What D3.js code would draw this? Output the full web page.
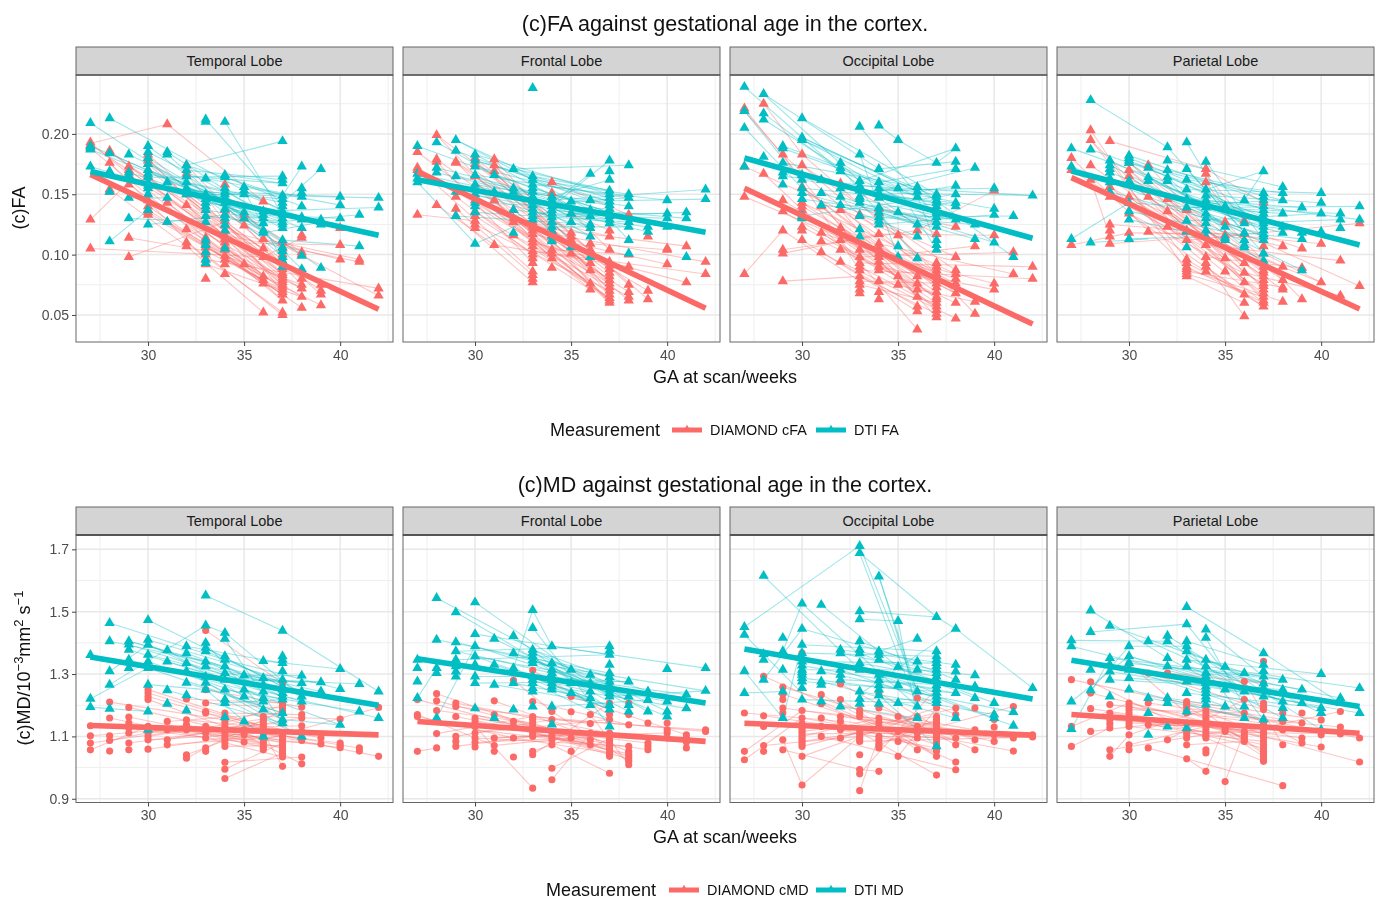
<!DOCTYPE html>
<html lang="en">
<head>
<meta charset="UTF-8">
<title>(c)FA and (c)MD against gestational age in the cortex</title>
<script src="https://d3js.org/d3.v7.min.js"></script>
<style>
    html, body { margin: 0; padding: 0; background: #fff; }
    svg { display: block; font-family: "Liberation Sans", Arial, sans-serif; }
</style>
</head>
<body>
<div id="chart"></div>
<script>
// scan weeks, every series below has one list of values per week
var gaWeeks = [27,28,29,30,31,32,33,34,35,36,37,38,39,40,41,42];
var fitWeeks = [27,42];
var lobes = ["Temporal Lobe","Frontal Lobe","Occipital Lobe","Parietal Lobe"];

var xTicks = [30,35,40];
var xMinor = [27.5,32.5,37.5,42.5];
var faTicks = [0.05,0.10,0.15,0.20];
var faMinor = [0.075,0.125,0.175,0.225];
var mdTicks = [0.9,1.1,1.3,1.5,1.7];
var mdMinor = [1.0,1.2,1.4,1.6];

// fitted lines: [value at 27, value at 42]
var faFitCfa = [[.1665,.0547],[.1688,.0555],[.155,.0425],[.1638,.055]];
var faFitFa  = [[.1688,.116],[.162,.1185],[.18,.1135],[.1693,.108]];
var mdFitCmd = [[1.135,1.105],[1.148,1.084],[1.142,1.104],[1.17,1.11]];
var mdFitMd  = [[1.355,1.20],[1.349,1.207],[1.38,1.22],[1.344,1.196]];

// ---- (c)FA points
var faTemporalCfa = [
 [.105,.129,.188,.191,.193],[.152,.154,.176,.185,.186],[.098,.114,.158,.166,.170,.173],
 [.133,.135,.137,.140,.145,.165,.170,.175,.178,.180,.183],[.127,.143,.208],[.107,.110,.121,.141,.150,.167,.174],
 [.080,.092,.096,.100,.103,.106,.109,.111,.114],[.084,.092,.096,.099,.104,.107,.110,.113,.116,.120,.124,.128,.133,.137,.158],
 [.092,.124,.130,.133],[.052,.076,.079,.082,.098,.105,.113,.144],
 [.050,.052,.062,.067,.069,.071,.073,.075,.077,.079,.081,.083,.085,.088,.090,.094,.100,.105,.110],
 [.056,.065,.072,.075,.080,.100,.102,.114,.116],[.058,.067,.070,.075],[.096,.108,.122],[.094,.096],[.066,.072]];
var faTemporalFa = [
 [.173,.187,.189,.190,.209],[.111,.152,.169,.184,.213],[.130,.147,.165,.168,.183],
 [.125,.137,.150,.155,.157,.160,.164,.167,.170,.175,.180,.185,.190],[.127,.147,.160,.183,.185],[.150,.155,.160,.165,.170,.174],
 [.093,.096,.102,.108,.112,.127,.132,.137,.140,.143,.146,.150,.163,.210,.212],[.105,.120,.125,.130,.133,.138,.143,.147,.150,.152,.155,.164,.166,.210],
 [.130,.135,.150,.153,.156],[.118,.120,.126,.130,.133,.136],
 [.090,.095,.098,.103,.106,.112,.122,.125,.127,.130,.133,.136,.140,.143,.146,.149,.159,.162,.165,.194],
 [.088,.099,.122,.129,.131,.140,.148,.151,.155,.173],[.089,.125,.127,.129,.171],[.130,.141,.148],[.107,.133],[.139,.147]];
var faFrontalCfa = [
 [.133,.170,.172,.185],[.141,.177,.179,.199],[.132,.138,.148,.176,.177],
 [.122,.125,.128,.132,.136,.145,.155,.165,.175,.180],[.108,.145,.169,.174,.179],[.116,.127,.130,.137],
 [.077,.080,.083,.086,.093,.097,.100,.103,.107,.110,.113,.117,.120,.123,.127],[.089,.097,.101,.104,.112,.116,.120,.127,.151,.160],
 [.101,.112,.115,.118,.134],[.071,.076,.087,.093,.098,.104,.109],
 [.060,.062,.064,.067,.070,.073,.076,.079,.082,.085,.088,.091,.094,.104,.115,.120],
 [.062,.065,.069,.075,.090,.100,.133],[.063,.070,.115],[.092,.104,.105],[.077,.107],[.084,.094]];
var faFrontalFa = [
 [.160,.163,.167,.190],[.168,.172,.193],[.132,.152,.165,.186,.195],
 [.109,.135,.140,.143,.150,.158,.166,.173,.178,.183],[.152,.166],[.118,.137,.152,.155,.171],
 [.129,.132,.135,.138,.141,.144,.148,.152,.155,.158,.162,.165,.238],[.111,.115,.119,.123,.127,.131,.134,.137,.140,.143,.145,.148],
 [.106,.127,.134,.144],[.098,.115,.122,.125,.132,.137,.145,.167],
 [.126,.129,.132,.135,.138,.141,.144,.147,.150,.153,.162,.169,.178],
 [.101,.112,.123,.127,.140,.147,.150,.174],[.119,.123],[.123,.130,.134,.145],[.098,.130,.135],[.146,.154]];
var faOccipitalCfa = [
 [.084,.148,.173,.219,.221],[.167,.225],[.078,.101,.104,.120,.136,.145,.183],
 [.112,.120,.123,.131,.134,.137,.140,.143,.156,.174,.183],[.102,.111,.118,.140],[.094,.104,.112,.122,.137,.159],
 [.068,.071,.075,.078,.082,.087,.090,.093,.098,.104,.133],[.063,.069,.078,.087,.090,.094,.098,.101,.105,.109,.117,.134,.138],
 [.075,.082,.116],[.038,.053,.057,.065,.071,.076,.082,.120],
 [.048,.051,.054,.057,.060,.063,.065,.069,.073,.076,.079,.082,.084,.087,.090,.093,.117],
 [.047,.060,.068,.076,.080,.084,.087,.098,.123],[.051,.061,.107],[.071,.076,.116,.153],[.084,.102],[.080,.090]];
var faOccipitalFa = [
 [.173,.205,.219,.239],[.181,.212,.217,.233],[.158,.165,.168,.176,.188,.190],
 [.130,.132,.146,.151,.155,.162,.166,.195,.197,.213],[.141,.151,.162],[.141,.148,.155,.169,.172,.176],
 [.115,.121,.132,.143,.146,.148,.153,.157,.161,.183,.206],[.125,.128,.131,.135,.139,.147,.151,.155,.160,.171,.207],
 [.098,.107,.135,.155,.195],[.097,.115,.125,.148,.152,.156],
 [.104,.108,.112,.123,.127,.131,.134,.136,.140,.143,.145,.148,.150,.176],
 [.129,.140,.143,.150,.157,.171,.177,.188],[.113,.125,.172],[.110,.133,.138,.155],[.098,.132],[.149]];
var faParietalCfa = [
 [.108,.170,.180],[.162,.174,.195,.203],[.109,.115,.120,.125,.148,.156,.194],
 [.118,.134,.148,.159,.165,.170,.176],[.119,.148,.174],[.123,.136,.146],
 [.082,.084,.086,.088,.090,.093,.096,.112,.120,.137],[.086,.090,.093,.098,.108,.115,.160,.167,.171],
 [.086,.097,.116,.127,.138],[.049,.060,.067,.077,.085,.093,.117,.128],
 [.057,.060,.062,.065,.068,.071,.074,.076,.079,.082,.085,.087,.090,.093,.101,.107,.143],[.061,.071,.073,.079,.090,.107],[.063,.089,.105],[.077,.109],[.066,.095],[.074,.126]];
var faParietalFa = [
 [.113,.173,.188],[.110,.187,.228],[.152,.160,.163,.168,.171,.174,.178],
 [.113,.129,.136,.143,.161,.176,.178,.180,.182],[.161,.164,.172],[.161,.164,.170,.178,.189],
 [.106,.119,.128,.139,.146,.154,.162,.171,.193],[.115,.120,.126,.130,.134,.139,.142,.145,.149,.154,.177],
 [.112,.114,.123,.140],[.106,.108,.112,.118,.126,.145],
 [.095,.101,.112,.115,.117,.120,.123,.126,.128,.131,.134,.137,.140,.145,.148,.151,.169],[.118,.123,.134,.145,.151,.156],[.087,.113,.118,.139],[.119,.134,.143,.151],[.122,.129,.134],[.129,.140]];

// ---- (c)FA subject lines: [week, value, week, value]
var faTemporalCfaLinks = [[27,.192,31,.208],[31,.208,36,.144],[27,.105,36,.098],[29,.098,34,.127],[27,.129,29,.160],[27,.188,33,.111],[28,.186,34,.110],[28,.176,33,.096],
 [29,.173,36,.105],[29,.166,37,.085],[29,.114,33,.103],[30,.183,37,.083],[30,.180,36,.082],[30,.178,37,.075],[30,.145,38,.072],[30,.137,37,.067],[30,.133,36,.079],
 [31,.143,37,.071],[31,.127,37,.073],[32,.174,38,.075],[32,.167,37,.069],[32,.150,39,.070],[32,.141,37,.077],[32,.121,38,.065],[32,.110,37,.052],[32,.107,36,.052],
 [33,.114,37,.062],[33,.111,38,.056],[33,.106,39,.058],[33,.100,37,.050],[33,.096,42,.072],[34,.137,39,.067],[34,.133,42,.066],[34,.128,38,.080],[34,.120,40,.096],
 [34,.116,41,.094],[34,.110,40,.108],[35,.133,38,.102],[35,.130,38,.100],[36,.113,41,.096],[36,.098,38,.114],[29,.158,35,.092],[28,.154,32,.107],
 [27,.191,34,.116],[27,.193,33,.114],[28,.185,36,.098],[29,.170,34,.113],[30,.175,37,.081],[30,.170,37,.090],[30,.165,37,.079],[30,.140,36,.076],[30,.135,37,.069],
 [31,.143,36,.082],[32,.150,37,.088],[32,.141,36,.079],[33,.109,37,.067],[33,.103,37,.071],[33,.092,38,.065],[34,.124,37,.085],[34,.113,37,.075],[34,.107,37,.062],[34,.104,38,.072],[34,.099,38,.075]];
var faTemporalFaLinks = [[27,.209,33,.146],[28,.213,37,.136],[33,.212,37,.140],[34,.210,37,.133],[32,.174,37,.194],[37,.143,39,.171],[37,.149,38,.173],[28,.111,30,.137],[30,.125,34,.133],
 [27,.190,33,.150],[27,.187,34,.143],[27,.173,35,.135],[28,.184,36,.126],[29,.183,37,.122],[29,.168,37,.127],[29,.147,31,.147],[29,.130,33,.127],[30,.190,37,.106],
 [30,.180,37,.112],[30,.175,36,.120],[30,.170,37,.130],[30,.164,37,.165],[30,.160,36,.130],[30,.157,37,.146],[31,.185,36,.133],[31,.183,37,.098],[31,.160,38,.129],
 [32,.170,37,.162],[32,.165,37,.159],[32,.155,36,.136],[33,.163,38,.148],[33,.150,42,.147],[33,.146,37,.103],[34,.166,37,.159],[34,.164,38,.140],[34,.152,40,.148],
 [34,.150,38,.088],[34,.143,39,.089],[35,.156,40,.141],[35,.153,37,.095],[35,.150,38,.131],[36,.136,42,.139],[36,.133,40,.130],[36,.126,41,.133],[36,.118,39,.127],[37,.112,41,.107],
 [30,.185,36,.136],[30,.167,34,.152],[30,.155,35,.150],[32,.174,37,.149],[32,.160,37,.143],[32,.150,37,.136],[33,.143,37,.133],[33,.137,37,.127],[33,.132,36,.126],[34,.147,38,.122],[34,.138,37,.125],[34,.133,36,.120]];
var faFrontalCfaLinks = [[27,.133,30,.128],[27,.170,33,.120],[27,.172,34,.104],[27,.185,33,.113],[28,.199,35,.118],[28,.179,36,.087],[28,.141,31,.108],[29,.176,36,.098],[29,.148,33,.100],
 [29,.138,33,.083],[29,.132,33,.077],[30,.180,37,.091],[30,.175,37,.088],[30,.165,37,.082],[30,.155,37,.073],[30,.145,36,.076],[30,.136,37,.064],[30,.132,36,.071],[30,.125,37,.070],
 [31,.179,37,.076],[31,.174,38,.075],[31,.169,37,.067],[31,.145,37,.060],[31,.108,38,.090],[32,.137,37,.079],[32,.130,38,.069],[32,.127,37,.062],[32,.116,38,.065],
 [33,.127,39,.070],[33,.123,41,.107],[33,.120,42,.094],[33,.117,40,.092],[33,.110,41,.077],[33,.103,42,.084],[34,.160,38,.133],[34,.151,37,.104],[34,.127,37,.115],[34,.104,38,.100],
 [35,.134,37,.120],[36,.109,40,.104],[36,.104,39,.063],[29,.177,34,.097],[28,.177,33,.093],
 [27,.172,33,.086],[28,.199,33,.117],[29,.177,36,.104],[30,.178,36,.093],[30,.170,37,.085],[30,.160,37,.079],[30,.150,36,.071],[30,.140,37,.076],[31,.174,37,.070],[31,.169,36,.087],[32,.130,37,.067],[33,.123,37,.062],[33,.113,36,.076],[33,.107,37,.064],[34,.116,38,.062],[34,.112,37,.060]];
var faFrontalFaLinks = [[27,.160,30,.109],[30,.109,35,.144],[27,.190,33,.155],[27,.167,34,.143],[27,.163,31,.152],[28,.193,34,.140],[28,.172,33,.152],[28,.168,36,.137],[29,.195,33,.165],
 [29,.186,36,.145],[29,.165,34,.148],[29,.152,36,.132],[29,.132,36,.125],[30,.183,37,.150],[30,.178,37,.147],[30,.173,37,.144],[30,.166,38,.147],[30,.158,37,.141],[30,.150,36,.122],
 [30,.143,37,.138],[30,.135,38,.127],[31,.166,37,.135],[32,.171,38,.174],[32,.155,37,.132],[32,.152,36,.115],[32,.137,37,.129],[33,.165,37,.153],[33,.162,38,.150],
 [33,.158,40,.145],[33,.152,38,.140],[33,.141,36,.098],[33,.135,39,.123],[33,.132,35,.106],[34,.140,37,.178],[34,.143,36,.167],[34,.148,37,.162],[34,.145,42,.154],
 [34,.134,40,.130],[34,.131,41,.135],[35,.144,42,.146],[35,.134,40,.134],[36,.145,38,.147],[36,.137,41,.130],[37,.126,39,.119],[37,.129,38,.112],
 [29,.195,36,.137],[30,.183,36,.132],[30,.178,37,.144],[30,.166,36,.125],[31,.152,37,.129],[32,.171,37,.153],[33,.155,37,.135],[33,.148,36,.122],[33,.144,37,.126],[34,.137,37,.132],[34,.127,36,.115],[34,.123,38,.123]];
var faOccipitalCfaLinks = [[27,.084,29,.120],[27,.221,33,.104],[27,.219,29,.183],[27,.173,35,.116],[27,.148,34,.101],[28,.225,30,.183],[28,.167,33,.093],[29,.078,33,.082],[29,.183,36,.082],
 [29,.145,36,.076],[29,.136,34,.090],[29,.120,33,.078],[29,.104,36,.120],[29,.101,34,.117],[30,.183,37,.087],[30,.174,38,.087],[30,.156,37,.073],[30,.143,37,.069],[30,.137,36,.071],
 [30,.134,37,.060],[30,.131,38,.068],[30,.123,37,.065],[30,.112,36,.053],[31,.140,36,.065],[31,.118,37,.057],[31,.111,38,.060],[31,.102,36,.057],[32,.159,37,.117],[32,.137,37,.084],
 [32,.122,38,.076],[32,.112,36,.038],[32,.094,38,.047],[33,.133,38,.098],[33,.104,40,.076],[33,.098,41,.102],[33,.093,42,.090],[33,.087,42,.080],[33,.082,37,.051],[34,.138,38,.123],
 [34,.117,40,.116],[34,.109,41,.084],[34,.098,39,.107],[34,.090,40,.071],[34,.078,39,.061],[35,.116,39,.051],[35,.082,37,.048],[36,.120,40,.153],
 [29,.183,33,.087],[30,.174,37,.079],[30,.156,36,.082],[30,.143,38,.084],[30,.140,37,.076],[31,.140,37,.063],[31,.118,38,.080],[32,.137,36,.065],[32,.122,37,.054],[33,.090,37,.057],[33,.078,38,.076],[33,.075,37,.060],[34,.105,37,.082],[34,.101,38,.068],[34,.094,37,.065]];
var faOccipitalFaLinks = [[27,.239,32,.169],[27,.219,30,.160],[27,.205,30,.155],[28,.233,34,.171],[28,.217,33,.157],[28,.212,32,.172],[29,.190,35,.155],[29,.176,36,.156],[29,.165,36,.152],
 [30,.213,37,.150],[30,.197,37,.145],[30,.195,36,.148],[30,.166,37,.136],[30,.155,38,.143],[30,.146,37,.131],[30,.132,38,.150],[31,.162,37,.140],[31,.151,36,.125],[31,.141,38,.129],
 [32,.176,37,.127],[32,.172,36,.097],[32,.155,38,.140],[32,.148,37,.123],[33,.206,37,.131],[33,.183,35,.098],[33,.161,38,.188],[33,.157,42,.149],[33,.153,40,.155],[33,.148,39,.172],
 [33,.132,39,.125],[34,.207,35,.195],[35,.195,37,.176],[34,.171,38,.177],[34,.160,38,.171],[34,.155,40,.138],[34,.151,42,.149],[34,.135,39,.113],[34,.131,41,.132],[34,.125,40,.133],
 [35,.155,37,.104],[35,.135,40,.110],[36,.156,41,.098],[36,.152,38,.157],[36,.148,37,.108],[37,.176,38,.188],
 [28,.233,33,.161],[29,.188,36,.148],[30,.197,36,.152],[30,.195,37,.148],[30,.162,37,.143],[30,.151,36,.125],[32,.169,37,.134],[32,.141,36,.115],[33,.143,37,.127],[33,.146,38,.129],[34,.147,37,.112],[34,.139,38,.143]];
var faParietalCfaLinks = [[27,.108,30,.118],[27,.170,33,.112],[27,.180,33,.090],[28,.203,33,.086],[28,.195,34,.098],[28,.174,34,.108],[28,.162,29,.115],[29,.194,34,.171],[29,.156,36,.093],
 [29,.148,35,.097],[29,.125,33,.120],[29,.109,34,.115],[30,.176,37,.093],[30,.170,36,.085],[30,.165,37,.087],[30,.159,37,.082],[30,.148,38,.090],[30,.134,37,.076],[30,.118,36,.117],
 [31,.174,37,.071],[31,.148,36,.077],[31,.119,34,.115],[32,.146,38,.079],[32,.136,37,.065],[32,.123,37,.060],[33,.137,39,.105],[33,.120,40,.109],[33,.112,42,.126],[33,.096,37,.057],
 [33,.090,36,.067],[33,.086,38,.073],[33,.082,36,.060],[34,.171,37,.143],[34,.167,36,.128],[34,.160,35,.138],[34,.115,40,.077],[34,.108,41,.095],[34,.098,39,.089],[34,.093,36,.049],
 [35,.127,39,.063],[35,.116,38,.107],[36,.117,42,.074],[36,.085,41,.066],[37,.101,40,.077],
 [28,.195,33,.096],[29,.156,34,.093],[30,.176,37,.079],[30,.170,37,.085],[30,.165,36,.093],[30,.159,38,.071],[30,.148,37,.068],[30,.134,36,.067],[31,.148,37,.074],[32,.146,37,.062],[32,.136,36,.077],[33,.093,37,.060],[33,.088,38,.061],[33,.084,37,.065],[34,.090,37,.057]];
var faParietalFaLinks = [[27,.113,30,.143],[27,.188,33,.154],[27,.173,35,.123],[28,.228,32,.189],[32,.189,36,.118],[28,.187,34,.154],[28,.110,31,.113],[29,.178,36,.126],[29,.168,34,.139],
 [29,.163,37,.123],[29,.152,37,.117],[30,.182,37,.145],[30,.180,37,.137],[30,.176,38,.145],[30,.161,36,.118],[30,.143,38,.134],[30,.136,37,.112],[30,.113,34,.115],[30,.129,33,.119],
 [31,.172,37,.128],[31,.164,36,.126],[31,.161,38,.123],[32,.178,38,.156],[32,.170,37,.151],[32,.164,35,.123],[33,.193,35,.140],[33,.171,37,.101],[33,.162,38,.151],[33,.154,40,.151],
 [33,.146,39,.139],[33,.139,42,.140],[33,.128,40,.134],[34,.177,37,.112],[34,.154,37,.169],[34,.149,40,.143],[34,.145,42,.129],[34,.139,41,.134],[34,.126,39,.087],[34,.120,37,.095],
 [35,.140,39,.118],[36,.145,37,.169],[36,.126,41,.129],[36,.118,39,.113],[37,.123,40,.119],
 [29,.174,36,.118],[29,.160,37,.134],[30,.178,37,.131],[30,.176,36,.112],[31,.164,37,.120],[32,.161,36,.106],[33,.162,37,.126],[33,.139,37,.115],[34,.142,38,.145],[34,.134,38,.118]];

// ---- (c)MD points
var mdTemporalCmd = [
 [1.057,1.079,1.102,1.134],[1.053,1.087,1.102,1.159,1.210],[1.057,1.079,1.111,1.127,1.143,1.162,1.193],
 [1.059,1.089,1.100,1.111,1.121,1.132,1.218,1.228,1.239,1.250],[1.073,1.089,1.121,1.148],[1.030,1.041,1.121,1.137,1.153,1.220],
 [1.052,1.063,1.095,1.111,1.132,1.175,1.180,1.207,1.250,1.440],[.965,.995,1.017,1.068,1.079,1.090,1.100,1.111,1.121,1.132,1.143,1.153,1.164,1.175],
 [1.082,1.105,1.121],[1.057,1.065,1.073,1.081,1.089,1.100,1.111,1.121,1.132,1.140,1.148,1.156,1.164],
 [1.004,1.034,1.041,1.047,1.055,1.063,1.071,1.079,1.089,1.100,1.111,1.143,1.175,1.183,1.191,1.199,1.207,1.217,1.228,1.271],
 [1.012,1.034,1.087,1.116,1.134,1.159,1.170,1.194],[1.076,1.095],[1.064,1.071,1.079,1.156],[1.053,1.063],[1.036,1.193]];
var mdTemporalMd = [
 [1.194,1.221,1.361],[1.189,1.266,1.309,1.405,1.464],[1.319,1.346,1.378,1.395,1.405],
 [1.121,1.180,1.266,1.319,1.340,1.362,1.394,1.410,1.473],[1.205,1.248,1.340,1.376],[1.183,1.232,1.272,1.309,1.335,1.367,1.389],
 [1.250,1.272,1.291,1.325,1.340,1.373,1.384,1.400,1.456,1.552],[1.161,1.207,1.218,1.250,1.282,1.303,1.325,1.346,1.357,1.413,1.432],
 [1.148,1.228,1.250,1.296],[1.100,1.186,1.212,1.223,1.244,1.266,1.287,1.342],
 [1.143,1.154,1.175,1.218,1.228,1.239,1.250,1.260,1.282,1.309,1.335,1.346,1.357,1.439],
 [1.100,1.212,1.228,1.244,1.271,1.295],[1.244,1.274],[1.137,1.252,1.316],[1.180,1.268],[1.159,1.244]];
var mdFrontalCmd = [
 [1.052,1.164,1.170,1.218],[1.063,1.109,1.183,1.214,1.237],[1.068,1.084,1.100,1.164,1.196,1.207],
 [1.066,1.081,1.095,1.111,1.132,1.148,1.159],[1.052,1.071,1.095,1.170,1.214],[1.034,1.095,1.132,1.148,1.280],
 [.934,1.041,1.052,1.100,1.108,1.121,1.132,1.143,1.154,1.164,1.212,1.312],[.961,.998,1.073,1.089,1.100,1.111,1.154,1.180],
 [1.052,1.095,1.179,1.228],[1.073,1.089,1.111,1.141,1.170],
 [.982,1.036,1.041,1.047,1.055,1.063,1.071,1.079,1.087,1.095,1.103,1.111,1.154,1.170,1.207],
 [1.009,1.020,1.028,1.036,1.044,1.052,1.068,1.137,1.170,1.207],[1.057,1.068,1.079,1.143],[1.095,1.111,1.121,1.143],[1.063,1.082,1.095,1.105],[1.116,1.121]];
var mdFrontalMd = [
 [1.223,1.276,1.319,1.346],[1.159,1.303,1.319,1.410,1.544],[1.292,1.308,1.325,1.346,1.373,1.402,1.498],
 [1.190,1.271,1.292,1.330,1.357,1.389,1.428,1.530],[1.159,1.266,1.330,1.413],[1.186,1.271,1.319,1.367,1.422],
 [1.196,1.244,1.255,1.271,1.282,1.292,1.335,1.345,1.357,1.368,1.378,1.448,1.505],[1.138,1.196,1.250,1.260,1.271,1.282,1.292,1.303,1.314,1.335,1.389],
 [1.239,1.271,1.314],[1.201,1.223,1.244,1.271,1.298],
 [1.132,1.186,1.201,1.228,1.239,1.250,1.263,1.276,1.290,1.303,1.330,1.362,1.375,1.389],[1.180,1.201,1.228,1.276],[1.180,1.217,1.244],[1.164,1.180,1.212,1.316],[1.190,1.234],[1.246,1.319]];
var mdOccipitalCmd = [
 [1.025,1.052,1.175],[1.052,1.071,1.132,1.166,1.293],[1.057,1.089,1.175,1.191,1.218,1.235,1.258],
 [.944,1.036,1.068,1.076,1.084,1.092,1.100,1.108,1.116,1.124,1.132,1.140,1.159,1.183,1.367],[1.100,1.132,1.159,1.205,1.234],[1.095,1.121,1.148,1.164,1.218,1.268],
 [.926,.980,.994,1.041,1.084,1.092,1.100,1.110,1.121,1.164,1.175,1.185],[.988,1.063,1.071,1.079,1.090,1.100,1.132,1.145,1.159,1.191,1.239],
 [1.036,1.084,1.116,1.164],[1.057,1.095,1.111,1.132,1.164,1.223],
 [.976,1.036,1.052,1.063,1.073,1.084,1.095,1.103,1.111,1.119,1.127,1.137,1.145,1.154,1.164,1.191,1.255],[.993,1.018,1.073,1.095,1.170,1.191],
 [1.057,1.089,1.121,1.191],[1.084,1.105,1.130,1.154],[1.053,1.095,1.196],[1.098,1.105]];
var mdOccipitalMd = [
 [1.239,1.309,1.426,1.451],[1.282,1.346,1.364,1.615],[1.159,1.244,1.314,1.373,1.416],
 [1.218,1.255,1.276,1.287,1.298,1.306,1.314,1.327,1.340,1.352,1.367,1.394,1.445,1.526],[1.212,1.266,1.276,1.309,1.522],[1.196,1.282,1.298,1.314,1.367,1.378],
 [1.205,1.221,1.244,1.314,1.325,1.335,1.367,1.378,1.405,1.476,1.501,1.688,1.711],[1.205,1.232,1.250,1.264,1.280,1.298,1.346,1.362,1.373,1.613],
 [1.207,1.264,1.323,1.470],[1.159,1.196,1.244,1.314,1.340,1.413],
 [1.068,1.207,1.217,1.228,1.240,1.252,1.264,1.278,1.292,1.303,1.314,1.325,1.335,1.346,1.357,1.373,1.483],[1.159,1.239,1.282,1.308,1.330,1.445],[1.223,1.260,1.296],[1.159,1.170,1.207],[1.134,1.178],[1.255]];
var mdParietalCmd = [
 [1.068,1.132,1.282],[1.116,1.189,1.239,1.275],[1.036,1.057,1.127,1.140,1.153,1.164,1.175,1.202],
 [1.057,1.073,1.105,1.132,1.143,1.154,1.164,1.175,1.186,1.196,1.207,1.333],[1.063,1.137,1.207,1.303],[1.089,1.218,1.303],
 [1.028,1.073,1.095,1.105,1.116,1.143,1.175,1.185,1.196,1.204,1.212],[.988,1.047,1.057,1.095,1.103,1.111,1.121,1.132,1.143,1.153,1.164,1.175,1.186],
 [.955,1.116,1.124,1.132],[1.084,1.092,1.100,1.108,1.116,1.175,1.218,1.276],
 [1.020,1.028,1.036,1.044,1.052,1.063,1.073,1.084,1.095,1.105,1.116,1.130,1.143,1.186,1.196,1.207,1.271,1.341],[.942,1.073,1.121,1.148,1.175],
 [1.079,1.095,1.143,1.175],[1.066,1.105,1.153],[1.108,1.130,1.180],[1.018,1.095]];
var mdParietalMd = [
 [1.124,1.212,1.389,1.408],[1.248,1.314,1.435,1.504],[1.228,1.282,1.308,1.330,1.351,1.455],
 [1.250,1.287,1.314,1.335,1.357,1.389],[1.105,1.175,1.223,1.405],[1.132,1.207,1.223,1.325,1.351,1.405,1.423],
 [1.127,1.180,1.239,1.276,1.325,1.346,1.373,1.389,1.405,1.460,1.515],[1.202,1.218,1.228,1.239,1.250,1.260,1.271,1.282,1.293,1.304,1.325,1.346,1.416,1.443],
 [1.196,1.250,1.323],[1.159,1.196,1.244,1.303],[1.154,1.228,1.255,1.270,1.292,1.310,1.330,1.367],[1.159,1.191,1.212,1.250,1.282],
 [1.207,1.250],[1.121,1.175,1.191,1.300],[1.207,1.223],[1.175,1.255]];

// ---- (c)MD subject lines
var mdTemporalCmdLinks = [[27,1.057,30,1.132],[27,1.079,32,1.121],[27,1.102,33,1.132],[27,1.134,35,1.105],[28,1.210,34,1.153],[28,1.159,33,1.095],[28,1.087,32,1.137],[29,1.193,37,1.079],[29,1.162,37,1.063],
 [29,1.127,36,1.073],[29,1.079,33,1.111],[30,1.250,36,1.132],[30,1.239,37,1.111],[30,1.228,38,1.087],[30,1.218,36,1.089],[30,1.111,37,1.143],[30,1.089,36,1.111],[30,1.059,34,1.095],[31,1.148,37,1.175],
 [31,1.121,38,1.134],[31,1.089,36,1.148],[32,1.220,37,1.207],[32,1.153,38,1.116],[32,1.041,36,1.132],[32,1.030,33,1.063],[33,1.440,37,1.271],[33,1.250,38,1.194],[33,1.207,37,1.191],[33,1.175,39,1.095],
 [33,1.132,40,1.079],[33,1.095,37,1.034],[34,.965,37,1.047],[34,.995,37,1.079],[34,1.017,38,1.034],[34,1.175,38,1.170],[34,1.132,41,1.063],[34,1.111,40,1.064],[34,1.095,39,1.076],[35,1.121,42,1.036],
 [35,1.105,38,1.012],[36,1.164,40,1.156],[36,1.111,37,1.004],[36,1.089,42,1.193],
 [30,1.121,37,1.089],[30,1.100,36,1.156],[31,1.073,37,1.100],[32,1.137,37,1.063],[32,1.121,36,1.065],[33,1.111,38,1.159],[33,1.063,37,1.183],[34,1.143,37,1.199],[34,1.090,38,1.116],[34,1.068,37,1.071]];
var mdTemporalMdLinks = [[27,1.221,30,1.319],[27,1.194,28,1.189],[28,1.189,30,1.180],[33,1.552,37,1.439],[37,1.439,42,1.244],[33,1.456,34,1.432],[34,1.432,38,1.228],[28,1.464,34,1.346],[28,1.405,33,1.340],
 [28,1.309,30,1.394],[28,1.266,33,1.456],[29,1.405,36,1.287],[29,1.395,37,1.239],[29,1.378,36,1.244],[29,1.346,37,1.218],[30,1.473,37,1.260],[30,1.410,37,1.282],[30,1.394,36,1.223],[30,1.340,36,1.212],
 [30,1.319,37,1.175],[30,1.266,33,1.250],[31,1.376,37,1.154],[31,1.340,38,1.212],[31,1.248,37,1.143],[32,1.389,37,1.335],[32,1.367,38,1.228],[32,1.309,38,1.100],[32,1.272,37,1.175],[33,1.400,36,1.186],
 [33,1.373,38,1.244],[33,1.325,39,1.244],[33,1.291,41,1.268],[33,1.250,36,1.100],[34,1.413,37,1.143],[34,1.346,40,1.252],[34,1.303,38,1.271],[34,1.282,39,1.274],[34,1.250,41,1.180],[34,1.207,37,1.218],
 [35,1.296,38,1.295],[35,1.250,40,1.137],[36,1.342,40,1.316],[36,1.244,42,1.159],[37,1.154,40,1.137],
 [29,1.405,34,1.325],[30,1.394,34,1.303],[30,1.362,36,1.266],[33,1.384,37,1.260],[33,1.340,37,1.228],[33,1.272,37,1.154],[34,1.325,37,1.239],[34,1.218,38,1.100]];
var mdFrontalCmdLinks = [[27,1.052,28,1.063],[27,1.218,33,1.121],[27,1.164,32,1.095],[27,1.170,31,1.071],[28,1.237,34,1.111],[28,1.214,36,1.089],[28,1.183,33,1.143],[28,1.109,33,1.164],[29,1.207,37,1.111],
 [29,1.196,36,1.141],[29,1.164,37,1.063],[29,1.100,34,1.154],[29,1.068,33,1.100],[30,1.159,37,1.095],[30,1.148,36,1.073],[30,1.132,33,.934],[30,1.111,37,1.154],[30,1.095,38,1.068],[30,1.081,35,1.095],
 [31,1.214,38,1.052],[31,1.170,37,1.079],[31,1.095,36,1.111],[31,1.071,34,1.089],[32,1.280,34,1.180],[32,1.148,38,1.036],[32,1.095,37,1.047],[33,1.312,37,1.170],[33,1.212,38,1.137],[33,1.164,42,1.116],
 [33,1.121,39,1.079],[33,1.100,40,1.111],[33,1.052,35,1.095],[33,1.041,37,1.207],[34,.961,36,1.111],[34,.998,37,1.095],[34,1.180,38,1.020],[34,1.154,42,1.121],[34,1.111,40,1.095],[34,1.073,37,.982],
 [35,1.228,41,1.105],[35,1.095,39,1.057],[36,1.170,38,1.009],[36,1.111,41,1.082],
 [30,1.159,36,1.089],[30,1.121,37,1.071],[31,1.095,37,1.111],[32,1.132,37,1.041],[33,1.143,37,1.055],[33,1.108,38,1.044],[34,1.100,38,1.028],[34,1.089,37,1.103]];
var mdFrontalMdLinks = [[27,1.223,28,1.319],[28,1.159,30,1.389],[28,1.544,35,1.314],[30,1.530,37,1.228],[29,1.498,36,1.244],[33,1.505,34,1.389],[32,1.319,33,1.505],[28,1.410,37,1.303],[29,1.402,36,1.298],
 [29,1.373,37,1.389],[29,1.346,37,1.362],[29,1.325,36,1.271],[30,1.428,37,1.362],[30,1.389,37,1.250],[30,1.357,37,1.276],[30,1.330,36,1.244],[30,1.292,34,1.292],[30,1.271,38,1.276],[31,1.413,37,1.228],
 [31,1.330,36,1.223],[31,1.266,37,1.201],[32,1.422,37,1.186],[32,1.367,38,1.228],[32,1.319,37,1.186],[32,1.271,36,1.223],[33,1.448,37,1.132],[33,1.378,39,1.244],[33,1.357,36,1.201],[33,1.335,42,1.246],
 [33,1.292,40,1.212],[33,1.271,37,1.154],[34,1.389,42,1.319],[34,1.335,38,1.201],[34,1.314,40,1.164],[34,1.292,41,1.234],[34,1.260,41,1.190],[34,1.196,39,1.217],[35,1.314,39,1.180],[35,1.271,38,1.228],
 [36,1.298,40,1.180],[36,1.244,38,1.180],[37,1.228,42,1.246],
 [29,1.373,34,1.303],[30,1.357,36,1.223],[32,1.367,37,1.290],[33,1.368,37,1.263],[33,1.345,36,1.271],[33,1.282,37,1.186],[34,1.282,38,1.276],[34,1.250,37,1.201]];
var mdOccipitalCmdLinks = [[27,1.025,30,1.159],[27,1.052,30,1.183],[27,1.175,33,1.143],[28,1.293,34,1.132],[28,1.166,33,1.121],[28,1.071,33,1.100],[29,1.258,37,1.111],[29,1.235,37,1.073],[29,1.191,36,1.132],
 [29,1.089,30,.944],[30,.944,33,1.100],[29,1.057,33,.994],[30,1.183,37,1.137],[30,1.159,36,1.095],[30,1.116,37,1.164],[30,1.100,34,1.159],[30,1.068,38,1.191],[30,1.036,36,1.164],[31,1.234,37,1.036],
 [31,1.205,38,1.018],[31,1.159,37,1.052],[31,1.100,38,.993],[32,1.268,38,1.073],[32,1.218,36,1.057],[32,1.148,37,.976],[32,1.095,37,1.191],[33,1.185,39,1.121],[33,1.164,40,1.105],[33,1.121,41,1.095],
 [33,1.084,42,1.098],[33,.994,34,.988],[33,.926,34,1.100],[33,.980,37,1.255],[34,1.239,38,1.095],[34,1.191,39,1.089],[34,1.159,40,1.084],[34,1.132,41,1.053],[34,1.079,41,1.196],[35,1.164,39,1.057],
 [35,1.116,37,1.036],[35,1.036,37,1.191],[36,1.223,38,1.170],[36,1.132,42,1.105],
 [30,1.132,37,1.095],[30,1.108,36,1.111],[30,1.084,37,1.145],[31,1.132,37,1.063],[32,1.164,37,1.119],[33,1.110,37,1.127],[34,1.100,38,1.095],[34,1.071,37,1.154]];
var mdOccipitalMdLinks = [[27,1.451,33,1.711],[33,1.711,36,1.244],[33,1.688,36,1.196],[33,1.688,37,1.483],[34,1.613,36,1.244],[34,1.613,36,1.223],[28,1.615,33,1.314],[30,1.526,29,1.373],[30,1.526,36,1.196],[31,1.522,35,1.323],
 [33,1.501,37,1.483],[33,1.476,35,1.470],[35,1.470,36,1.159],[38,1.445,42,1.255],[37,1.483,38,1.445],[33,1.235,38,1.445],[27,1.426,30,1.239],[27,1.309,29,1.159],[29,1.159,30,1.394],[28,1.282,30,1.445],[30,1.445,36,1.340],
 [30,1.394,37,1.373],[30,1.367,37,1.357],[30,1.340,37,1.335],[30,1.314,36,1.314],[30,1.276,38,1.239],[30,1.218,36,1.207],[31,1.309,37,1.228],[31,1.276,38,1.159],[32,1.378,38,1.330],[32,1.314,37,1.207],
 [32,1.282,39,1.260],[32,1.196,36,1.159],[33,1.405,38,1.282],[33,1.367,39,1.223],[33,1.335,37,1.292],[33,1.244,40,1.170],[34,1.373,36,1.413],[34,1.346,37,1.314],[34,1.298,40,1.159],[34,1.264,41,1.178],
 [34,1.232,37,1.068],[35,1.323,40,1.207],[36,1.314,39,1.296],[36,1.244,41,1.134],[27,1.239,29,1.244],
 [30,1.352,34,1.298],[30,1.327,37,1.252],[30,1.287,36,1.244],[32,1.367,37,1.303],[33,1.325,37,1.240],[33,1.221,37,1.217],[34,1.280,38,1.239]];
var mdParietalCmdLinks = [[27,1.068,29,1.127],[27,1.132,30,1.207],[27,1.282,32,1.218],[28,1.275,34,1.095],[28,1.239,35,1.132],[28,1.189,33,1.143],[28,1.116,31,1.137],[29,1.202,37,1.143],[29,1.175,36,1.116],
 [29,1.153,37,1.116],[29,1.057,35,1.116],[29,1.036,30,1.105],[30,1.333,33,1.175],[30,1.207,37,1.095],[30,1.186,36,1.175],[30,1.164,37,1.073],[30,1.143,38,1.121],[30,1.105,34,1.186],[30,1.073,34,1.132],
 [31,1.303,37,1.186],[31,1.207,38,1.148],[31,1.137,36,1.100],[31,1.063,38,.942],[32,1.303,37,1.271],[32,1.218,39,1.143],[32,1.089,36,1.218],[33,1.212,40,1.153],[33,1.196,37,1.052],[33,1.175,41,1.130],
 [33,1.143,39,1.095],[33,1.116,41,1.108],[33,1.073,36,1.084],[33,1.028,34,.988],[34,.988,35,1.132],[34,1.186,42,1.095],[34,1.153,37,1.036],[34,1.132,40,1.066],[34,1.095,37,1.020],[35,1.132,42,1.018],
 [35,.955,36,1.116],[36,1.276,38,1.073],[36,1.175,39,1.079],[36,1.116,41,1.180],
 [30,1.196,36,1.100],[30,1.154,37,1.063],[30,1.132,37,1.084],[31,1.137,37,1.130],[33,1.204,37,1.105],[33,1.185,36,1.092],[34,1.175,37,1.044],[34,1.143,38,1.121]];
var mdParietalMdLinks = [[27,1.124,29,1.351],[27,1.212,30,1.357],[27,1.389,34,1.282],[27,1.408,32,1.405],[28,1.504,32,1.351],[28,1.435,33,1.460],[33,1.460,37,1.154],[33,1.515,37,1.367],[37,1.367,41,1.207],[28,1.248,30,1.389],
 [29,1.455,36,1.303],[29,1.351,37,1.292],[29,1.330,36,1.244],[29,1.282,37,1.255],[30,1.389,33,1.389],[30,1.357,37,1.228],[30,1.335,38,1.282],[30,1.314,36,1.196],[30,1.287,38,1.250],[30,1.250,36,1.159],
 [31,1.405,38,1.212],[31,1.223,37,1.154],[32,1.423,37,1.228],[32,1.405,36,1.244],[32,1.351,38,1.159],[32,1.325,39,1.250],[32,1.223,35,1.196],[33,1.405,37,1.330],[33,1.389,36,1.159],[33,1.346,40,1.300],
 [33,1.325,41,1.223],[33,1.276,39,1.207],[33,1.239,40,1.191],[34,1.443,37,1.292],[34,1.416,36,1.196],[34,1.346,40,1.175],[34,1.325,42,1.255],[34,1.282,41,1.207],[34,1.239,38,1.191],[34,1.218,37,1.154],
 [35,1.323,40,1.121],[35,1.250,42,1.175],[36,1.303,38,1.282],[36,1.244,40,1.191],
 [29,1.308,35,1.250],[30,1.357,34,1.293],[33,1.373,37,1.270],[33,1.325,37,1.228],[34,1.304,38,1.212],[34,1.271,37,1.255]];

var colorRed = "#fb6a66", colorTeal = "#00bec4";
var width = 1379, height = 897;
var panelLeft = [76,403,730,1057], panelW = 317;

var rows = [
  { title: "(c)FA against gestational age in the cortex.", titleY: 30.5, stripTop: 47, top: 75, bottom: 342, axisY: 377, legendY: 430,
    domain: [0.0276,0.2488], ticks: faTicks, minor: faMinor, fmt: d3.format(".2f"), shape: d3.symbolTriangle, keyX: [550,672,710,816,854], stripLine: 1,
    red: [faTemporalCfa,faFrontalCfa,faOccipitalCfa,faParietalCfa], teal: [faTemporalFa,faFrontalFa,faOccipitalFa,faParietalFa],
    redLinks: [faTemporalCfaLinks,faFrontalCfaLinks,faOccipitalCfaLinks,faParietalCfaLinks], tealLinks: [faTemporalFaLinks,faFrontalFaLinks,faOccipitalFaLinks,faParietalFaLinks],
    redFit: faFitCfa, tealFit: faFitFa, names: ["DIAMOND cFA","DTI FA"] },
  { title: "(c)MD against gestational age in the cortex.", titleY: 491.5, stripTop: 507, top: 535, bottom: 802.5, axisY: 837, legendY: 890,
    domain: [0.888,1.746], ticks: mdTicks, minor: mdMinor, fmt: d3.format(".1f"), shape: d3.symbolCircle, keyX: [546,669,707,816,854], stripLine: 2,
    red: [mdTemporalCmd,mdFrontalCmd,mdOccipitalCmd,mdParietalCmd], teal: [mdTemporalMd,mdFrontalMd,mdOccipitalMd,mdParietalMd],
    redLinks: [mdTemporalCmdLinks,mdFrontalCmdLinks,mdOccipitalCmdLinks,mdParietalCmdLinks], tealLinks: [mdTemporalMdLinks,mdFrontalMdLinks,mdOccipitalMdLinks,mdParietalMdLinks],
    redFit: mdFitCmd, tealFit: mdFitMd, names: ["DIAMOND cMD","DTI MD"] }
];

var svg = d3.select("#chart").append("svg")
    .attr("width", width)
    .attr("height", height)
    .style("filter", "blur(0.5px)");

var x = d3.scaleLinear().domain([26.25,42.75]).range([0,panelW]);

rows.forEach(function(row, r) {
    var y = d3.scaleLinear().domain(row.domain).range([row.bottom, row.top]);

    svg.append("text").attr("x", 725).attr("y", row.titleY)
        .attr("text-anchor", "middle").style("font-size", "21.5px").attr("fill", "#111")
        .text(row.title);

    lobes.forEach(function(lobe, p) {
        var g = svg.append("g").attr("transform", "translate(" + panelLeft[p] + ",0)");

        // grid
        g.selectAll(".minx").data(xMinor).enter().append("line")
            .attr("x1", x).attr("x2", x).attr("y1", row.top).attr("y2", row.bottom)
            .attr("stroke", "#efefef").attr("stroke-width", 1);
        g.selectAll(".miny").data(row.minor).enter().append("line")
            .attr("x1", 0).attr("x2", panelW).attr("y1", y).attr("y2", y)
            .attr("stroke", "#efefef").attr("stroke-width", 1);
        g.selectAll(".majx").data(xTicks).enter().append("line")
            .attr("x1", x).attr("x2", x).attr("y1", row.top).attr("y2", row.bottom)
            .attr("stroke", "#e8e8e8").attr("stroke-width", 1.5);
        g.selectAll(".majy").data(row.ticks).enter().append("line")
            .attr("x1", 0).attr("x2", panelW).attr("y1", y).attr("y2", y)
            .attr("stroke", "#e8e8e8").attr("stroke-width", 1.5);

        // subject lines
        [[row.redLinks[p], colorRed], [row.tealLinks[p], colorTeal]].forEach(function(s) {
            g.append("g").selectAll("line").data(s[0]).enter().append("line")
                .attr("x1", function(d) { return x(d[0]); })
                .attr("y1", function(d) { return y(d[1]); })
                .attr("x2", function(d) { return x(d[2]); })
                .attr("y2", function(d) { return y(d[3]); })
                .attr("stroke", s[1]).attr("stroke-opacity", 0.38).attr("stroke-width", 1.1);
        });

        // points
        var pointPath = function(list, color, shape, size) {
            var pts = [];
            list.forEach(function(vals, i) {
                vals.forEach(function(v) { pts.push([gaWeeks[i], v]); });
            });
            g.append("g").selectAll("path").data(pts).enter().append("path")
                .attr("d", d3.symbol().type(shape).size(size))
                .attr("transform", function(d) { return "translate(" + x(d[0]) + "," + y(d[1]) + ")"; })
                .attr("fill", color);
        };
        pointPath(row.red[p], colorRed, row.shape, row.shape === d3.symbolCircle ? 40 : 46);
        pointPath(row.teal[p], colorTeal, d3.symbolTriangle, 46);

        // fitted lines
        [[row.redFit[p], colorRed], [row.tealFit[p], colorTeal]].forEach(function(s) {
            g.append("line")
                .attr("x1", x(fitWeeks[0])).attr("y1", y(s[0][0]))
                .attr("x2", x(fitWeeks[1])).attr("y2", y(s[0][1]))
                .attr("stroke", s[1]).attr("stroke-width", 5.6);
        });

        // strip + panel border
        g.append("rect").attr("x", 0).attr("y", row.stripTop).attr("width", panelW).attr("height", row.top - row.stripTop)
            .attr("fill", "#d4d4d4").attr("stroke", "#666").attr("stroke-width", 1);
        g.append("text").attr("x", panelW / 2).attr("y", (row.stripTop + row.top) / 2 + 5)
            .attr("text-anchor", "middle").style("font-size", "14.5px").attr("fill", "#1a1a1a")
            .text(lobe);
        g.append("rect").attr("x", 0).attr("y", row.top).attr("width", panelW).attr("height", row.bottom - row.top)
            .attr("fill", "none").attr("stroke", "#666").attr("stroke-width", 1);
        g.append("line").attr("x1", 0).attr("x2", panelW).attr("y1", row.top).attr("y2", row.top)
            .attr("stroke", "#555").attr("stroke-width", row.stripLine);

        // axes
        var xAxis = g.append("g").attr("transform", "translate(0," + row.bottom + ")")
            .call(d3.axisBottom(x).tickValues(xTicks).tickSize(4).tickPadding(4));
        xAxis.select(".domain").remove();
        xAxis.selectAll("line").attr("stroke", "#444");
        xAxis.selectAll("text").attr("fill", "#4d4d4d").style("font-size", "14px").style("font-family", "inherit");

        if (p === 0) {
            var yAxis = g.append("g")
                .call(d3.axisLeft(y).tickValues(row.ticks).tickFormat(row.fmt).tickSize(4).tickPadding(3));
            yAxis.select(".domain").remove();
            yAxis.selectAll("line").attr("stroke", "#444");
            yAxis.selectAll("text").attr("fill", "#4d4d4d").style("font-size", "14px").style("font-family", "inherit");
        }
    });

    // x axis title
    svg.append("text").attr("x", 725).attr("y", row.axisY + 6)
        .attr("text-anchor", "middle").style("font-size", "18px").attr("fill", "#111")
        .text("GA at scan/weeks");

    // legend
    var ly = row.legendY, kx = row.keyX;
    svg.append("text").attr("x", kx[0]).attr("y", ly + 6).style("font-size", "18px").attr("fill", "#111").text("Measurement");
    svg.append("line").attr("x1", kx[1]).attr("x2", kx[1] + 30).attr("y1", ly).attr("y2", ly).attr("stroke", colorRed).attr("stroke-width", 5);
    svg.append("path").attr("d", d3.symbol().type(d3.symbolTriangle).size(14)).attr("transform", "translate(" + (kx[1] + 15) + "," + (ly - 2) + ")").attr("fill", colorRed);
    svg.append("text").attr("x", kx[2]).attr("y", ly + 5).style("font-size", "14.4px").attr("fill", "#111").text(row.names[0]);
    svg.append("line").attr("x1", kx[3]).attr("x2", kx[3] + 30).attr("y1", ly).attr("y2", ly).attr("stroke", colorTeal).attr("stroke-width", 5);
    svg.append("path").attr("d", d3.symbol().type(d3.symbolTriangle).size(14)).attr("transform", "translate(" + (kx[3] + 15) + "," + (ly - 2) + ")").attr("fill", colorTeal);
    svg.append("text").attr("x", kx[4]).attr("y", ly + 5).style("font-size", "14.4px").attr("fill", "#111").text(row.names[1]);
});

// y axis titles
svg.append("text").attr("transform", "translate(25,208) rotate(-90)")
    .attr("text-anchor", "middle").style("font-size", "18px").attr("fill", "#111").text("(c)FA");
var mdTitle = svg.append("text").attr("transform", "translate(30,668) rotate(-90)")
    .attr("text-anchor", "middle").style("font-size", "18px").attr("fill", "#111");
mdTitle.append("tspan").text("(c)MD/10");
mdTitle.append("tspan").attr("dy", -7).style("font-size", "13px").text("\u22123");
mdTitle.append("tspan").attr("dy", 7).text("mm");
mdTitle.append("tspan").attr("dy", -7).style("font-size", "13px").text("2");
mdTitle.append("tspan").attr("dy", 7).text(" s");
mdTitle.append("tspan").attr("dy", -7).style("font-size", "13px").text("\u22121");
</script>
</body>
</html>
